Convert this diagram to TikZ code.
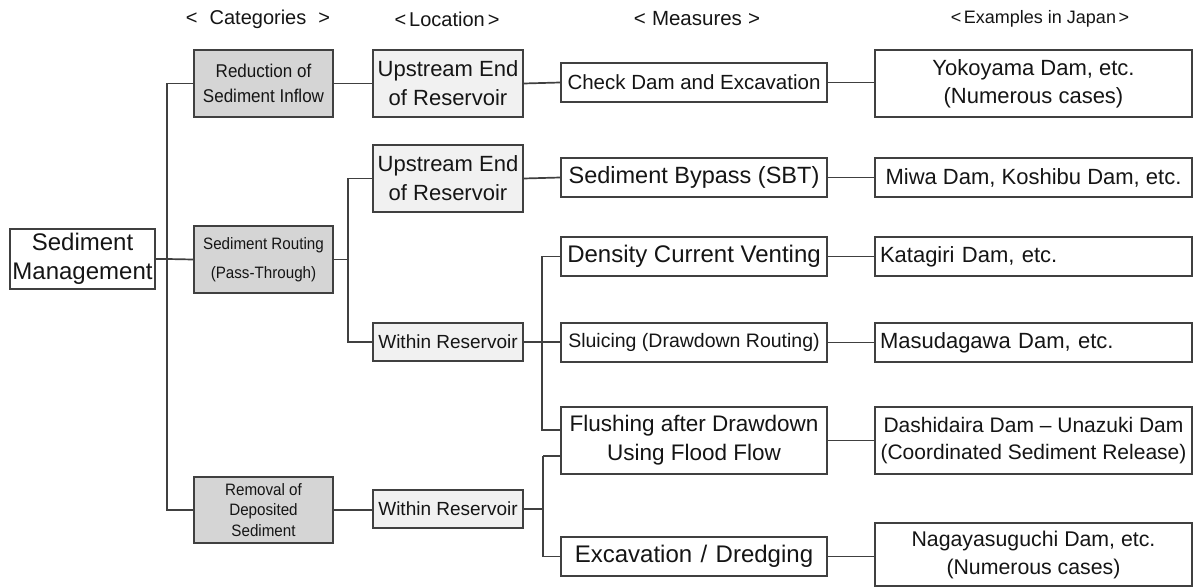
\documentclass[tikz,border=0pt]{standalone}
\usepackage{fontspec}
\setmainfont{Liberation Sans}
\newfontfamily\condfont{Liberation Sans}[FakeStretch=0.92]
\definecolor{catgray}{HTML}{D5D5D5}
\definecolor{locgray}{HTML}{F1F1F1}
\definecolor{edge}{HTML}{404040}
\definecolor{ink}{HTML}{151515}
\newcommand{\fs}[2]{\fontsize{#1}{#2}\selectfont}
\begin{document}
\begin{tikzpicture}[x=1pt,y=-1pt,
  box/.style={draw=edge, line width=1.6pt, rectangle, inner sep=0pt, align=center, text=ink},
  catbox/.style={box, fill=catgray, font=\condfont},
  locbox/.style={box, fill=locgray},
  plainbox/.style={box, fill=white},
  leftbox/.style={box, fill=white, align=left, inner xsep=5pt, text width=307pt},
  head/.style={inner sep=0pt, text=ink},
  link/.style={draw=edge, line width=1.7pt}]
\fill[white] (0,0) rectangle (1195,588);
\useasboundingbox (0,0) rectangle (1195,588);

% column headings
\node[head, font=\fs{20}{22}] (h1) at (258,19) {<\hspace{0.6em}Categories\hspace{0.6em}>};
\node[head, font=\fs{20}{22}] (h2) at (447,19) {<\hspace{0.15em}Location\hspace{0.15em}>};
\node[head, font=\fs{20.5}{23}] (h3) at (697,19) {<\hspace{0.3em}Measures\hspace{0.3em}>};
\node[head, font=\fs{18}{20}] (h4) at (1040,19) {<\hspace{0.15em}Examples in Japan\hspace{0.15em}>};

% root
\node[plainbox, minimum width=145pt, minimum height=60pt, font=\fs{24}{29}] (sm) at (82.5,259) {Sediment\\Management};

% categories
\node[catbox, minimum width=139pt, minimum height=67pt, font=\condfont\fs{18.5}{25}] (c1) at (263.5,83.5) {Reduction of\\Sediment Inflow};
\node[catbox, minimum width=139pt, minimum height=67pt, font=\condfont\fs{16.5}{29}] (c2) at (263.5,259.5) {Sediment Routing\\(Pass-Through)};
\node[catbox, minimum width=139pt, minimum height=66pt, font=\condfont\fs{16.5}{20.5}] (c3) at (263.5,510) {Removal of\\Deposited\\Sediment};

% locations
\node[locbox, minimum width=150pt, minimum height=67pt, font=\fs{22}{29}] (l1) at (448,83.5) {Upstream End\\of Reservoir};
\node[locbox, minimum width=150pt, minimum height=67pt, font=\fs{22}{29}] (l2) at (448,178.5) {Upstream End\\of Reservoir};
\node[locbox, minimum width=150pt, minimum height=38pt, font=\fs{19}{22}] (l3) at (448,342) {Within Reservoir};
\node[locbox, minimum width=150pt, minimum height=38pt, font=\fs{19}{22}] (l4) at (448,509) {Within Reservoir};

% measures
\node[plainbox, minimum width=266pt, minimum height=39pt, font=\fs{20.5}{24}] (m1) at (694,82.5) {Check Dam and Excavation};
\node[plainbox, minimum width=266pt, minimum height=39pt, font=\fs{23.5}{27}] (m2) at (694,177.5) {Sediment Bypass (SBT)};
\node[plainbox, minimum width=266pt, minimum height=39pt, font=\fs{24}{27}] (m3) at (694,256.5) {Density Current Venting};
\node[plainbox, minimum width=266pt, minimum height=39pt, font=\fs{19.5}{23}] (m4) at (694,342.5) {Sluicing (Drawdown Routing)};
\node[plainbox, minimum width=266pt, minimum height=67pt, font=\fs{22.5}{29}] (m5) at (694,440.5) {Flushing after Drawdown\\Using Flood Flow};
\node[plainbox, minimum width=266pt, minimum height=39pt, font=\fs{24}{27}] (m6) at (694,556.5) {Excavation\hspace{0.35em}/\hspace{0.35em}Dredging};

% examples
\node[plainbox, minimum width=317pt, minimum height=67pt, font=\fs{22}{28}] (e1) at (1033.5,83.5) {Yokoyama Dam, etc.\\(Numerous cases)};
\node[plainbox, minimum width=317pt, minimum height=39pt, font=\fs{22}{26}] (e2) at (1033.5,177.5) {Miwa Dam, Koshibu Dam, etc.};
\node[leftbox, minimum height=39pt, font=\fs{22}{26}] (e3) at (1033.5,256.5) {Katagiri Dam, etc.};
\node[leftbox, minimum height=39pt, font=\fs{22}{26}] (e4) at (1033.5,342.5) {Masudagawa Dam, etc.};
\node[plainbox, minimum width=317pt, minimum height=67pt, font=\fs{21}{27}] (e5) at (1033.5,440.5) {Dashidaira Dam -- Unazuki Dam\\(Coordinated Sediment Release)};
\node[plainbox, minimum width=317pt, minimum height=63pt, font=\fs{21.3}{28}] (e6) at (1033.5,554.5) {Nagayasuguchi Dam, etc.\\(Numerous cases)};

% junction points on the vertical buses
\coordinate (t0) at (167,259);
\coordinate (tb) at (348,259.5);
\coordinate (j5a) at (542,430);
\coordinate (j5b) at (543,456);

% root to categories
\draw[link] (sm.east) -- (t0);
\draw[link] (t0) |- (c1.west);
\draw[link] (t0) |- (c3.west);
\draw[link] (t0) -- (c2.west);

% categories to locations
\draw[link] (c1.east) -- (l1.west);
\draw[link] (c2.east) -- (tb);
\draw[link] (tb) |- (l2.west);
\draw[link] (tb) |- (l3.west);
\draw[link] (c3.east) -- (c3.east -| l4.west);

% locations to measures
\draw[link] (l1.east) -- (m1.west);
\draw[link] (l2.east) -- (m2.west);
\draw[link] (l3.east) -- (l3.east -| m4.west);
\draw[link] (l3.east -| j5a) |- (m3.west);
\draw[link] (l3.east -| j5a) -- (j5a) -- (j5a -| m5.west);
\draw[link] (l4.east) -- (l4.east -| j5b);
\draw[link] (j5b) -- (j5b -| m5.west);
\draw[link] (j5b) |- (m6.west);

% measures to examples
\draw[link] (m1.east) -- (m1.east -| e1.west);
\draw[link] (m2.east) -- (e2.west);
\draw[link] (m3.east) -- (e3.west);
\draw[link] (m4.east) -- (e4.west);
\draw[link] (m5.east) -- (e5.west);
\draw[link] (m6.east) -- (m6.east -| e6.west);
\end{tikzpicture}
\end{document}
